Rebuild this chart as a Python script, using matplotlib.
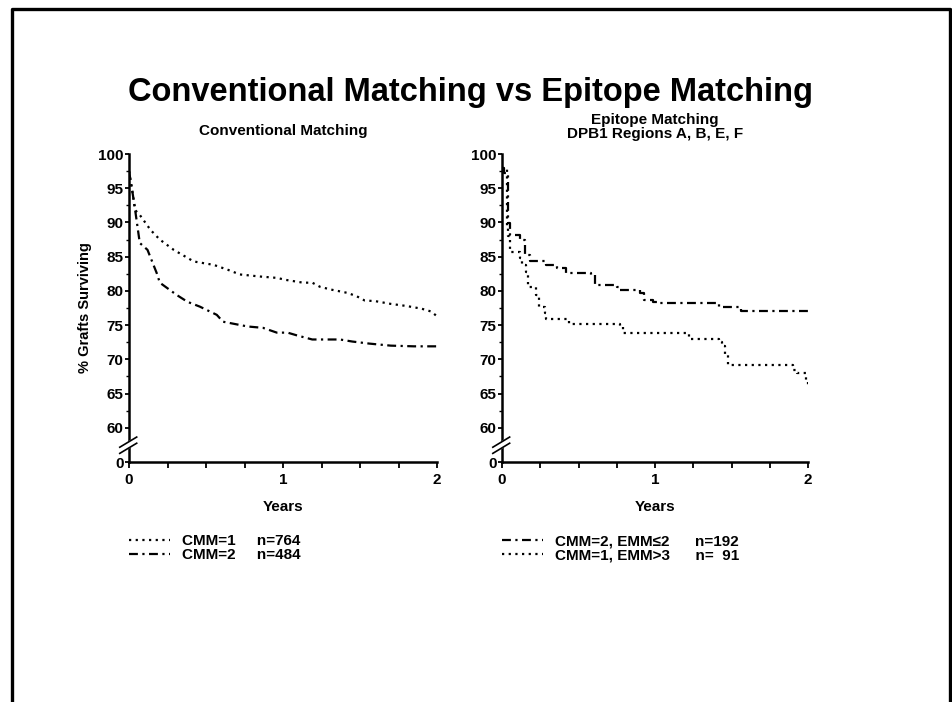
import numpy as np
import matplotlib
matplotlib.use("Agg")
import matplotlib.pyplot as plt
from matplotlib.lines import Line2D
from matplotlib.patches import Polygon

plt.rcParams['font.family'] = ['Liberation Sans', 'DejaVu Sans']
plt.rcParams['font.weight'] = 'bold'

# datos (años, % injertos)
t_cmm1 = [0, 0.02, 0.04, 0.07, 0.14, 0.2, 0.29, 0.42, 0.55, 0.64, 0.72, 0.85, 0.96, 1.02,
          1.13, 1.19, 1.24, 1.31, 1.42, 1.48, 1.53, 1.6, 1.7, 1.8, 1.9, 1.96, 2.0]
s_cmm1 = [97.5, 94.8, 91.8, 91.1, 88.9, 87.5, 86.0, 84.3, 83.8, 83.1, 82.4, 82.1, 81.9, 81.6,
          81.2, 81.2, 80.6, 80.2, 79.7, 79.2, 78.6, 78.5, 78.1, 77.8, 77.4, 77.0, 76.3]
t_cmm2 = [0, 0.02, 0.04, 0.07, 0.12, 0.18, 0.2, 0.31, 0.38, 0.46, 0.57, 0.61, 0.77, 0.87,
          0.96, 1.03, 1.09, 1.19, 1.37, 1.45, 1.56, 1.7, 1.85, 2.0]
s_cmm2 = [97.5, 94.8, 91.8, 87.0, 86.0, 82.6, 81.2, 79.4, 78.4, 77.7, 76.5, 75.5, 74.8, 74.6,
          73.9, 73.9, 73.5, 72.9, 72.9, 72.6, 72.3, 72.0, 71.9, 71.9]

t_emm2 = [0, 0.01, 0.04, 0.05, 0.12, 0.15, 0.18, 0.29, 0.36, 0.40, 0.42, 0.58, 0.61, 0.75,
          0.77, 0.88, 0.9, 0.93, 0.99, 1.02, 1.4, 1.42, 1.54, 1.56, 2.0]
s_emm2 = [98.0, 97.2, 89.9, 88.2, 87.5, 85.3, 84.3, 83.8, 83.4, 83.4, 82.6, 82.3, 80.9, 80.6,
          80.2, 80.2, 79.7, 78.7, 78.4, 78.2, 78.2, 77.7, 77.7, 77.1, 77.1]
t_emm3 = [0, 0.03, 0.04, 0.05, 0.07, 0.12, 0.13, 0.16, 0.17, 0.22, 0.24, 0.28, 0.29, 0.42,
          0.44, 0.77, 0.79, 1.18, 1.22, 1.42, 1.44, 1.46, 1.48, 1.88, 1.9, 1.93, 1.97, 1.99, 2.0]
s_emm3 = [98.0, 89.4, 88.0, 85.7, 85.7, 84.8, 83.8, 82.7, 80.5, 79.4, 77.7, 76.8, 75.9, 75.9,
          75.1, 74.8, 73.9, 73.9, 72.9, 72.6, 71.9, 70.7, 69.2, 69.2, 68.5, 68.0, 68.0, 66.8, 66.1]

yticks = [55, 60, 65, 70, 75, 80, 85, 90, 95, 100]
ytick_labels = ['0', '60', '65', '70', '75', '80', '85', '90', '95', '100']
xticks = [0, 1, 2]

dotted = (0, (1, 2))
dashdot = (0, (4, 2, 1, 2))

fig = plt.figure(figsize=(9.52, 7.02), dpi=100)

# marco
fig.add_artist(Line2D([12/952, 12/952, 950/952, 950/952], [-0.05, 1-9/702, 1-9/702, -0.05],
                      transform=fig.transFigure, color='black', lw=2.4))

fig.text(0.494, 1-93/702, 'Conventional Matching vs Epitope Matching', ha='center', va='center',
         fontsize=23.5, fontweight='bold')

ax1 = fig.add_axes([129/952, 1-462/702, 308/952, 308/702])
ax2 = fig.add_axes([502/952, 1-462/702, 306/952, 308/702])

ax1.plot(t_cmm1, s_cmm1, color='black', lw=1.6, linestyle=dotted, label='CMM=1     n=764')
ax1.plot(t_cmm2, s_cmm2, color='black', lw=1.6, linestyle=dashdot, label='CMM=2     n=484')
ax2.plot(t_emm2, s_emm2, color='black', lw=1.6, linestyle=dashdot, drawstyle='steps-post',
         label='CMM=2, EMM\u22642      n=192')
ax2.plot(t_emm3, s_emm3, color='black', lw=1.6, linestyle=dotted, drawstyle='steps-post',
         label='CMM=1, EMM>3      n=  91')

fig.text(283/952, 1-131/702, 'Conventional Matching', ha='center', va='center',
         fontsize=11, fontweight='bold')
fig.text(655/952, 1-127/702, 'Epitope Matching\nDPB1 Regions A, B, E, F', ha='center',
         va='center', fontsize=11, fontweight='bold', linespacing=0.95)
ax1.set_ylabel('% Grafts Surviving', fontsize=10.5, fontweight='bold', labelpad=4)

for ax in (ax1, ax2):
    ax.set_xlim(0, 2)
    ax.set_ylim(55, 100)
    ax.set_yticks(yticks)
    ax.set_yticklabels(ytick_labels, fontsize=11, fontweight='bold')
    ax.set_yticks(np.arange(57.5, 100, 5), minor=True)
    ax.set_xticks(xticks)
    ax.set_xticklabels([str(x) for x in xticks], fontsize=11, fontweight='bold')
    ax.set_xticks(np.arange(0, 2.01, 0.25), minor=True)
    ax.set_xlabel('Years', fontsize=11, fontweight='bold', labelpad=9)
    ax.spines['top'].set_visible(False)
    ax.spines['right'].set_visible(False)
    ax.spines['left'].set_linewidth(1.8)
    ax.spines['bottom'].set_linewidth(1.8)
    ax.tick_params(axis='y', which='major', length=3, width=1.3, pad=1)
    ax.tick_params(axis='x', which='major', length=4, width=1.3, pad=4)
    ax.tick_params(axis='y', which='minor', length=2, width=1.0)
    ax.tick_params(axis='x', which='minor', length=4, width=1.3)
    # corte del eje
    gap = Polygon([[-0.03, 0.028], [0.02, 0.058], [0.02, 0.078], [-0.03, 0.048]],
                  closed=True, transform=ax.transAxes, color='white', clip_on=False, zorder=5)
    ax.add_patch(gap)
    for y0 in (0.028, 0.048):
        ax.plot([-0.03, 0.025], [y0, y0 + 0.033], transform=ax.transAxes, color='black',
                lw=1.2, clip_on=False, zorder=6)
    ax.legend(loc='upper left', bbox_to_anchor=(0.0, -0.235), frameon=False, fontsize=11,
              handlelength=2.7, handletextpad=0.8, labelspacing=0.0, borderpad=0,
              borderaxespad=0)

fig.savefig('out.png', dpi=100)
